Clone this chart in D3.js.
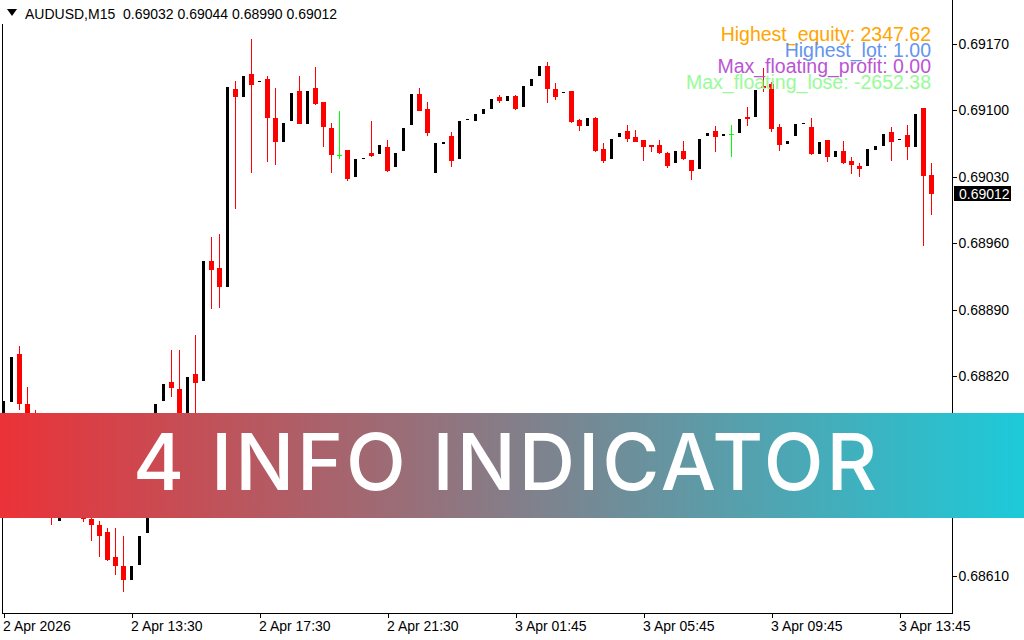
<!DOCTYPE html>
<html><head><meta charset="utf-8">
<script src="https://cdn.jsdelivr.net/npm/d3@7/dist/d3.min.js"></script>
<style>html,body{margin:0;padding:0;background:#fff;overflow:hidden}svg{display:block}</style>
</head><body>
<script>
// ---- DATA ----
const symbolTitle = "AUDUSD,M15";
const lastOHLC = ["0.69032","0.69044","0.68990","0.69012"];
const opens = [0.68770,0.68793,0.68844,0.68791,0.68778,0.68760,0.68740,0.68668,0.68700,0.68705,
0.68690,0.68670,0.68664,0.68656,0.68630,0.68621,0.68606,0.68622,0.68655,0.68765,
0.68794,0.68814,0.68807,0.68775,0.68822,0.68815,0.68941,0.68934,0.68914,0.69122,
0.69114,0.69138,0.69130,0.69133,0.69092,0.69067,0.69089,0.69120,0.69085,0.69123,
0.69109,0.69081,0.69053,0.69058,0.69030,0.69049,0.69055,0.69054,0.69061,0.69040,
0.69057,0.69084,0.69117,0.69101,0.69034,0.69065,0.69073,0.69049,0.69090,0.69089,
0.69096,0.69101,0.69114,0.69110,0.69115,0.69103,0.69126,0.69136,0.69147,0.69122,
0.69118,0.69120,0.69090,0.69083,0.69092,0.69059,0.69049,0.69072,0.69078,0.69072,
0.69069,0.69063,0.69063,0.69055,0.69044,0.69057,0.69048,0.69038,0.69073,0.69078,
0.69073,0.69075,0.69076,0.69093,0.69093,0.69125,0.69128,0.69082,0.69065,0.69073,
0.69086,0.69082,0.69054,0.69069,0.69051,0.69057,0.69047,0.69041,0.69041,0.69058,
0.69062,0.69077,0.69069,0.69074,0.69061,0.69102,0.69032];
const highs = [0.68796,0.68841,0.68852,0.68809,0.68785,0.68770,0.68745,0.68705,0.68712,0.68710,
0.68695,0.68690,0.68668,0.68660,0.68660,0.68652,0.68621,0.68653,0.68762,0.68792,
0.68813,0.68848,0.68848,0.68820,0.68864,0.68942,0.68967,0.68970,0.69125,0.69131,
0.69137,0.69175,0.69131,0.69136,0.69123,0.69088,0.69119,0.69136,0.69121,0.69146,
0.69109,0.69087,0.69099,0.69058,0.69050,0.69050,0.69089,0.69064,0.69069,0.69056,
0.69082,0.69118,0.69123,0.69109,0.69067,0.69067,0.69077,0.69090,0.69091,0.69097,
0.69102,0.69113,0.69116,0.69116,0.69116,0.69127,0.69134,0.69148,0.69151,0.69129,
0.69119,0.69120,0.69091,0.69093,0.69093,0.69066,0.69071,0.69077,0.69084,0.69079,
0.69069,0.69063,0.69069,0.69056,0.69058,0.69068,0.69048,0.69071,0.69077,0.69083,
0.69076,0.69084,0.69092,0.69103,0.69122,0.69144,0.69130,0.69086,0.69069,0.69087,
0.69087,0.69092,0.69068,0.69069,0.69058,0.69068,0.69051,0.69045,0.69060,0.69063,
0.69076,0.69082,0.69070,0.69084,0.69097,0.69102,0.69044];
const lows = [0.68764,0.68792,0.68785,0.68767,0.68750,0.68735,0.68664,0.68668,0.68690,0.68685,
0.68667,0.68647,0.68630,0.68626,0.68611,0.68593,0.68605,0.68621,0.68654,0.68762,
0.68793,0.68798,0.68760,0.68770,0.68760,0.68814,0.68891,0.68892,0.68913,0.68996,
0.69113,0.69034,0.69130,0.69046,0.69042,0.69066,0.69088,0.69085,0.69084,0.69105,
0.69061,0.69034,0.69049,0.69026,0.69029,0.69049,0.69051,0.69053,0.69035,0.69039,
0.69056,0.69083,0.69099,0.69073,0.69033,0.69065,0.69040,0.69048,0.69089,0.69088,
0.69095,0.69100,0.69108,0.69109,0.69100,0.69102,0.69125,0.69135,0.69108,0.69111,
0.69118,0.69087,0.69078,0.69082,0.69056,0.69045,0.69048,0.69071,0.69067,0.69067,
0.69047,0.69056,0.69054,0.69039,0.69043,0.69048,0.69027,0.69037,0.69072,0.69056,
0.69072,0.69051,0.69075,0.69083,0.69092,0.69119,0.69077,0.69057,0.69064,0.69072,
0.69085,0.69053,0.69053,0.69046,0.69050,0.69043,0.69033,0.69030,0.69040,0.69057,
0.69061,0.69047,0.69069,0.69048,0.69060,0.68957,0.68990];
const closes = [0.68794,0.68840,0.68791,0.68775,0.68760,0.68745,0.68671,0.68700,0.68705,0.68690,
0.68670,0.68664,0.68652,0.68627,0.68621,0.68606,0.68620,0.68652,0.68760,0.68791,
0.68812,0.68808,0.68770,0.68819,0.68813,0.68941,0.68932,0.68914,0.69124,0.69114,
0.69136,0.69127,0.69131,0.69092,0.69067,0.69087,0.69118,0.69085,0.69120,0.69107,
0.69082,0.69053,0.69053,0.69028,0.69049,0.69050,0.69052,0.69063,0.69036,0.69055,
0.69081,0.69117,0.69099,0.69076,0.69066,0.69067,0.69047,0.69089,0.69091,0.69096,
0.69101,0.69112,0.69110,0.69115,0.69101,0.69126,0.69133,0.69147,0.69122,0.69114,
0.69119,0.69088,0.69083,0.69092,0.69057,0.69047,0.69070,0.69076,0.69070,0.69067,
0.69061,0.69061,0.69055,0.69041,0.69057,0.69049,0.69036,0.69070,0.69076,0.69072,
0.69075,0.69075,0.69091,0.69091,0.69121,0.69123,0.69080,0.69063,0.69068,0.69086,
0.69087,0.69054,0.69067,0.69051,0.69057,0.69045,0.69042,0.69038,0.69059,0.69062,
0.69075,0.69067,0.69070,0.69061,0.69096,0.69031,0.69012];
const priceTicks = [0.69170,0.69100,0.69030,0.68960,0.68890,0.68820,0.68750,0.68680,0.68610];
const timeTickIndex = [0,16,32,48,64,80,96,112];
const timeTickLabels = ["2 Apr 2026","2 Apr 13:30","2 Apr 17:30","2 Apr 21:30","3 Apr 01:45","3 Apr 05:45","3 Apr 09:45","3 Apr 13:45"];
const infoLabels = ["Highest_equity: 2347.62","Highest_lot: 1.00","Max_floating_profit: 0.00","Max_floating_lose: -2652.38"];
const infoColors = ["#FFA500","#6495ED","#BA55D3","#98FB98"];
const currentPrice = 0.69012;
const bannerText = "4 INFO INDICATOR";

// ---- CHART ----
const W = 1024, H = 640;
const plotLeft = 2.5, plotRight = 952.5, plotBottom = 613.5;
const svg = d3.select("body").append("svg").attr("width", W).attr("height", H);
svg.append("rect").attr("width", W).attr("height", H).attr("fill", "#fff");

const n = closes.length;
const x = d3.scaleLinear().domain([0, n - 1]).range([3.5, 3.5 + 8 * (n - 1)]);
const y = d3.scaleLinear().domain([0.69170, 0.68610]).range([43.7, 576]);

const defs = svg.append("defs");
defs.append("clipPath").attr("id", "plot").append("rect")
  .attr("x", 3).attr("y", 0).attr("width", 949).attr("height", 613);
const grad = defs.append("linearGradient").attr("id", "bannerGrad").attr("x1", "0").attr("x2", "1").attr("y1", "0").attr("y2", "0");
grad.append("stop").attr("offset", "0").attr("stop-color", "#eb3238");
grad.append("stop").attr("offset", "1").attr("stop-color", "#1dcad9");

const data = d3.range(n).map(i => ({i, o: opens[i], h: highs[i], l: lows[i], c: closes[i]}));
const g = svg.append("g").attr("clip-path", "url(#plot)").attr("shape-rendering", "crispEdges");

const bears = data.filter(d => d.c < d.o);
const bulls = data.filter(d => d.c > d.o);
const dojis = data.filter(d => d.c === d.o);

// bear wicks + bodies
g.selectAll(".bw").data(bears).join("rect")
  .attr("x", d => x(d.i) - 0.5).attr("width", 1)
  .attr("y", d => Math.round(y(d.h))).attr("height", d => Math.max(1, Math.round(y(d.l)) - Math.round(y(d.h))))
  .attr("fill", "#ff0000");
g.selectAll(".bb").data(bears).join("rect")
  .attr("x", d => x(d.i) - 2.5).attr("width", 5)
  .attr("y", d => Math.round(y(d.o))).attr("height", d => Math.max(1, Math.round(y(d.c)) - Math.round(y(d.o))))
  .attr("fill", "#ff0000");
// bull bodies (white outline / invisible wick, black fill)
g.selectAll(".ub").data(bulls).join("rect")
  .attr("x", d => x(d.i) - 1.5).attr("width", 3)
  .attr("y", d => Math.round(y(d.c))).attr("height", d => Math.max(1, Math.round(y(d.o)) - Math.round(y(d.c))))
  .attr("fill", "#000");
// dojis in line colour
g.selectAll(".dw").data(dojis).join("rect")
  .attr("x", d => x(d.i) - 0.5).attr("width", 1)
  .attr("y", d => Math.round(y(d.h))).attr("height", d => Math.max(1, Math.round(y(d.l)) - Math.round(y(d.h))))
  .attr("fill", "#00ff00");
g.selectAll(".dh").data(dojis).join("rect")
  .attr("x", d => x(d.i) - 2.5).attr("width", 5)
  .attr("y", d => Math.round(y(d.o))).attr("height", 1)
  .attr("fill", "#00ff00");

// frame
const frame = svg.append("g").attr("shape-rendering", "crispEdges").attr("stroke", "#000").attr("stroke-width", 1);
frame.append("line").attr("x1", plotLeft).attr("x2", plotLeft).attr("y1", 24).attr("y2", plotBottom);
frame.append("line").attr("x1", plotLeft).attr("x2", plotRight).attr("y1", plotBottom).attr("y2", plotBottom);
frame.append("line").attr("x1", plotRight).attr("x2", plotRight).attr("y1", 0).attr("y2", plotBottom);

// price axis
const fontAxis = "'Liberation Sans', Arial, sans-serif";
const yAxis = d3.axisRight(y).tickValues(priceTicks).tickSize(4).tickPadding(2).tickFormat(d3.format(".5f"));
const ya = svg.append("g").attr("transform", `translate(${plotRight},0)`).call(yAxis);
ya.select(".domain").remove();
ya.selectAll("line").attr("shape-rendering", "crispEdges").attr("stroke", "#000");
ya.selectAll("text").attr("font-family", fontAxis).attr("font-size", 14).attr("fill", "#000");

// time axis
const xAxis = d3.axisBottom(x).tickValues(timeTickIndex).tickSize(4).tickPadding(4)
  .tickFormat((d, k) => timeTickLabels[k]);
const xa = svg.append("g").attr("transform", `translate(0,${plotBottom})`).call(xAxis);
xa.select(".domain").remove();
xa.selectAll("line").attr("shape-rendering", "crispEdges").attr("stroke", "#000");
xa.selectAll("text").attr("font-family", fontAxis).attr("font-size", 14).attr("fill", "#000")
  .attr("text-anchor", "start").attr("dx", -1);

// current price label
const cy = y(currentPrice);
svg.append("rect").attr("x", 954).attr("y", Math.round(cy) - 8).attr("width", 57).attr("height", 15).attr("fill", "#000");
svg.append("text").attr("x", 959).attr("y", cy).attr("dy", "0.35em")
  .attr("font-family", fontAxis).attr("font-size", 14).attr("fill", "#fff").text(d3.format(".5f")(currentPrice));

// header
svg.append("path").attr("d", "M7,9 L17,9 L12,16 Z").attr("fill", "#000");
svg.append("text").attr("x", 25).attr("y", 19).attr("font-family", fontAxis).attr("font-size", 14).attr("fill", "#000")
  .attr("xml:space", "preserve").text(symbolTitle + "  " + lastOHLC.join(" "));

// info lines
svg.selectAll(".info").data(infoLabels).join("text")
  .attr("x", 931).attr("y", (d, k) => 41 + 16 * k).attr("text-anchor", "end")
  .attr("font-family", "'Liberation Sans', Arial, sans-serif").attr("font-size", 19.5)
  .attr("fill", (d, k) => infoColors[k]).text(d => d);

// banner
svg.append("rect").attr("x", 0).attr("y", 413).attr("width", W).attr("height", 105).attr("fill", "url(#bannerGrad)");
svg.append("text").attr("x", 133).attr("y", 490)
  .attr("font-family", "Inter, Lato, sans-serif").attr("font-weight", 500).attr("font-size", 78)
  .attr("fill", "#fff").attr("textLength", 744).attr("lengthAdjust", "spacing").text(bannerText);
</script>
</body></html>
